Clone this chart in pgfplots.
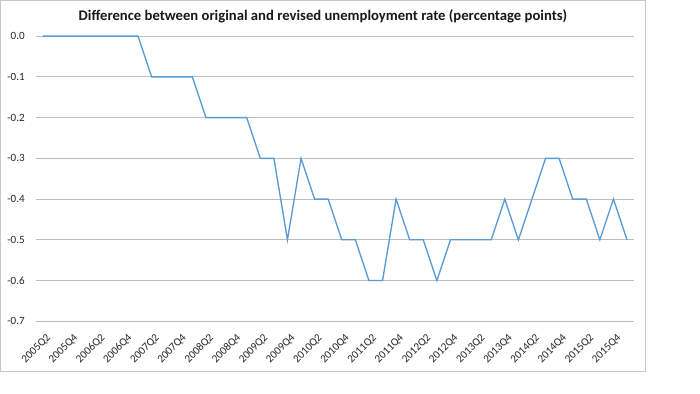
\documentclass[border=0pt]{standalone}
\usepackage{pgfplots}
\pgfplotsset{compat=1.18}
\usepackage{fontspec}
\setmainfont{Carlito}
\definecolor{linecol}{RGB}{91,155,213}
\definecolor{gridcol}{RGB}{190,190,190}
\definecolor{bordercol}{RGB}{200,200,200}
\begin{document}
\begin{tikzpicture}
\path[use as bounding box] (-27.15pt,-53.78pt) rectangle (497.85pt,240.98pt);
\fill[white] (-27.15pt,-53.78pt) rectangle (497.85pt,240.98pt);
\draw[bordercol, line width=0.75pt] (-26.78pt,-37.65pt) rectangle (456.98pt,240.6pt);
\begin{axis}[
  at={(0,0)}, anchor=south west,
  scale only axis, width=448.2pt, height=213.9pt,
  xmin=-0.5, xmax=43.5, ymin=-0.7, ymax=0,
  clip=false,
  axis line style={draw=none},
  major tick length=0pt,
  ymajorgrids, grid style={gridcol, line width=0.75pt},
  ytick={-0.7,-0.6,-0.5,-0.4,-0.3,-0.2,-0.1,0},
  yticklabels={-0.7,-0.6,-0.5,-0.4,-0.3,-0.2,-0.1,0.0},
  yticklabel style={font=\fontsize{8.3pt}{9pt}\selectfont, anchor=east, inner sep=0pt, xshift=-8.4pt, text=black!85},
  xtick={0,2,...,42},
  xticklabels={2005Q2,2005Q4,2006Q2,2006Q4,2007Q2,2007Q4,2008Q2,2008Q4,2009Q2,2009Q4,2010Q2,2010Q4,2011Q2,2011Q4,2012Q2,2012Q4,2013Q2,2013Q4,2014Q2,2014Q4,2015Q2,2015Q4},
  xticklabel style={font=\fontsize{8.3pt}{9pt}\selectfont, inner sep=0pt, xshift=4.5pt, yshift=-11pt, rotate=45, anchor=east, text=black!85},
]
\addplot[linecol, line width=1pt, mark=none] coordinates {
(0,0) (1,0) (2,0) (3,0) (4,0) (5,0) (6,0) (7,0)
(8,-0.1) (9,-0.1) (10,-0.1) (11,-0.1)
(12,-0.2) (13,-0.2) (14,-0.2) (15,-0.2)
(16,-0.3) (17,-0.3) (18,-0.5) (19,-0.3) (20,-0.4) (21,-0.4)
(22,-0.5) (23,-0.5) (24,-0.6) (25,-0.6) (26,-0.4) (27,-0.5)
(28,-0.5) (29,-0.6) (30,-0.5) (31,-0.5) (32,-0.5) (33,-0.5)
(34,-0.4) (35,-0.5) (36,-0.4) (37,-0.3) (38,-0.3) (39,-0.4)
(40,-0.4) (41,-0.5) (42,-0.4) (43,-0.5)
};
\end{axis}
\node[font=\bfseries\fontsize{11pt}{13pt}\selectfont, text=black!90] at (215.1pt,229.0pt) {Difference between original and revised unemployment rate (percentage points)};
\end{tikzpicture}
\end{document}
